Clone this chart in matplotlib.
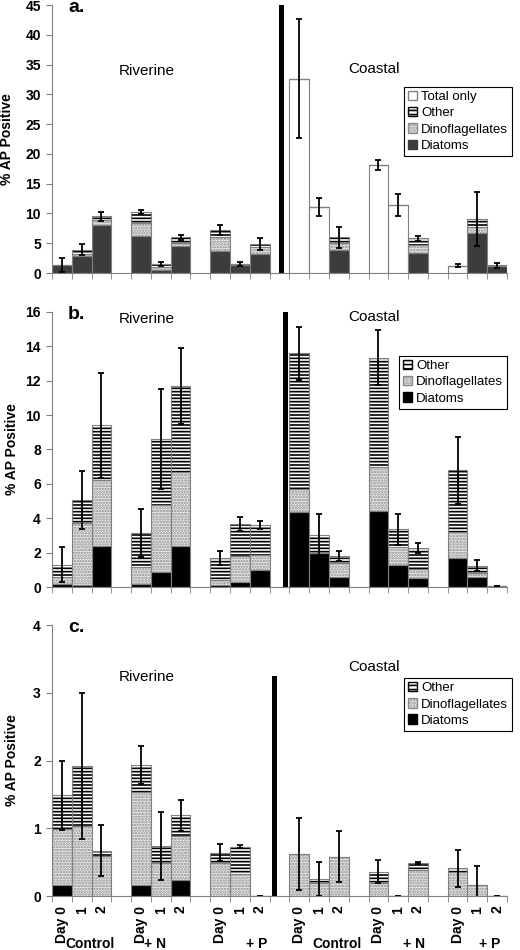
import numpy as np
import matplotlib
matplotlib.use('Agg')
from matplotlib import pyplot as plt
from matplotlib.patches import Patch
from matplotlib import transforms

plt.rcParams['font.family'] = ['Liberation Sans', 'DejaVu Sans']
plt.rcParams['hatch.linewidth'] = 1.2

# bars: Riverine Control/+N/+P (Day 0,1,2), then Coastal Control/+N/+P
day_labels = ['Day 0', '1', '2']
group_labels = ['Control', '+ N', '+ P', 'Control', '+ N', '+ P']
site_labels = ['Riverine', 'Coastal']

# panel a
total_only_a = [0, 0, 0, 0, 0, 0, 0, 0, 0, 32.6, 11.1, 0, 18.2, 11.4, 0, 1.25, 0, 0]
diatoms_a = [1.4, 2.8, 8.1, 6.25, 0.5, 4.5, 3.7, 1.3, 3.2, 0, 0, 3.9, 0, 0, 3.35, 0, 6.7, 1.2]
dinos_a = [0, 0.4, 0.8, 2.15, 0.5, 0.6, 2.3, 0, 1.1, 0, 0, 1.1, 0, 0, 1.4, 0, 0.95, 0]
other_a = [0, 0.7, 0.6, 1.8, 0.5, 0.9, 1.2, 0.2, 0.6, 0, 0, 1.0, 0, 0, 1.1, 0, 1.45, 0.1]
err_a = [1.15, 0.9, 0.8, 0.3, 0.4, 0.45, 0.8, 0.35, 0.95, 10.0, 1.5, 1.8, 0.85, 1.9, 0.45, 0.25, 4.5, 0.45]

# panel b
diatoms_b = [0.2, 0.1, 2.4, 0.2, 0.87, 2.4, 0.13, 0.27, 1.0, 4.35, 2.0, 0.6, 4.4, 1.3, 0.55, 1.7, 0.6, 0.03]
dinos_b = [0.4, 3.65, 3.8, 0.95, 3.88, 4.3, 0.27, 1.53, 0.85, 1.35, 0, 0.8, 2.6, 1.05, 0.5, 1.5, 0.2, 0]
other_b = [0.7, 1.3, 3.2, 2.0, 3.85, 5.0, 1.3, 1.85, 1.75, 7.9, 1.05, 0.4, 6.35, 1.0, 1.2, 3.6, 0.45, 0]
err_b = [1.0, 1.7, 3.05, 1.4, 2.9, 2.2, 0.4, 0.4, 0.25, 1.55, 1.2, 0.3, 1.6, 0.9, 0.3, 1.95, 0.3, 0]

# panel c
diatoms_c = [0.17, 0, 0, 0.16, 0, 0.24, 0, 0, 0, 0, 0, 0, 0, 0, 0, 0, 0, 0]
dinos_c = [0.82, 1.04, 0.59, 1.38, 0.49, 0.64, 0.49, 0.33, 0, 0.62, 0.19, 0.58, 0.19, 0, 0.39, 0.35, 0.17, 0]
other_c = [0.5, 0.88, 0.08, 0.39, 0.25, 0.31, 0.15, 0.4, 0, 0, 0.06, 0, 0.17, 0, 0.1, 0.06, 0, 0]
err_c = [0.51, 1.08, 0.38, 0.28, 0.5, 0.23, 0.13, 0.02, 0, 0.53, 0.25, 0.38, 0.17, 0, 0.01, 0.27, 0.28, 0]

divider_heights = [45, 16, 3.25]
ymax = [45, 16, 4]
ystep = [5, 2, 1]

pos = np.array([g * 4 + d for g in range(6) for d in range(3)])
EDGE = '#808080'
STRIPE = dict(hatch='-----', color='white', edgecolor='black', lw=0)
STIPPLE = dict(hatch='......', color='#ececec', edgecolor='#8a8a8a', lw=0)


def layer(ax, vals, bottom, style):
    vals = np.array(vals)
    ax.bar(pos, vals, width=1.0, bottom=bottom, **style)
    ax.bar(pos, vals, width=1.0, bottom=bottom, fill=False, edgecolor=EDGE, lw=0.8)
    return bottom + vals


fig = plt.figure(figsize=(5.2, 9.5), dpi=100)
rects = [[0.1, 0.7126, 0.875, 0.2821], [0.1, 0.3821, 0.875, 0.2895], [0.1, 0.0568, 0.875, 0.2853]]
panels = [
    ('a.', diatoms_a, dinos_a, other_a, err_a, '#3c3c3c'),
    ('b.', diatoms_b, dinos_b, other_b, err_b, 'black'),
    ('c.', diatoms_c, dinos_c, other_c, err_c, 'black'),
]
div_x = [11.1, 11.3, 10.75]
text_y = [(0.754, 0.761), (0.975, 0.982), (0.808, 0.845)]
leg_anchor = [(1.011, 0.694), (1.0, 0.84), (1.011, 0.804)]
ylab_x = [-0.084, -0.073, -0.073]

for i, (letter, dia, dino, oth, err, dia_col) in enumerate(panels):
    ax = fig.add_axes(rects[i])
    bottom = np.zeros(len(pos))
    if i == 0:
        bottom = layer(ax, total_only_a, bottom, dict(color='white', lw=0))
    bottom = layer(ax, dia, bottom, dict(color=dia_col, lw=0))
    bottom = layer(ax, dino, bottom, STIPPLE)
    bottom = layer(ax, oth, bottom, STRIPE)
    ax.errorbar(pos, bottom, yerr=err, fmt='none', ecolor='black', elinewidth=1.3,
                capsize=2.3, capthick=1.3)
    ax.bar([div_x[i]], [divider_heights[i]], width=0.25, color='black')

    ax.set_xlim(-0.5, 22.5)
    ax.set_ylim(0, ymax[i])
    ax.set_yticks(np.arange(0, ymax[i] + 0.01, ystep[i]))
    for s in ['top', 'right']:
        ax.spines[s].set_visible(False)
    for s in ['left', 'bottom']:
        ax.spines[s].set_color(EDGE)
    ax.tick_params(axis='y', direction='out', length=4, color=EDGE, pad=4, labelsize=10)
    for t in ax.get_yticklabels():
        t.set_fontweight('bold')
    ax.set_xticks(np.arange(-0.5, 23, 1), minor=True)
    ax.tick_params(axis='x', which='minor', direction='out', length=4, color=EDGE)
    ax.set_xticks(pos)
    ax.tick_params(axis='x', which='major', length=0, pad=7)
    if i == 2:
        ax.set_xticklabels(day_labels * 6, rotation=90, fontsize=10, fontweight='bold', va='top')
        tr = transforms.blended_transform_factory(ax.transData, ax.transAxes)
        offs = [1.42, 0.7, 1.85, 1.9, 1.8, 1.6]
        for g, lab in enumerate(group_labels):
            ax.text(g * 4 + offs[g], -0.178, lab, transform=tr, ha='center', va='center',
                    fontsize=10, fontweight='bold')
    else:
        ax.set_xticklabels([])

    ax.set_ylabel('% AP Positive', fontsize=10, fontweight='bold')
    ax.yaxis.set_label_coords(ylab_x[i], 0.5)
    ax.text(0.035, 0.99, letter, transform=ax.transAxes, fontsize=14, fontweight='bold',
            ha='left', va='center')
    ax.text(0.209, text_y[i][0], site_labels[0], transform=ax.transAxes, fontsize=11,
            ha='center', va='center')
    ax.text(0.708, text_y[i][1], site_labels[1], transform=ax.transAxes, fontsize=11,
            ha='center', va='center')

    handles = []
    if i == 0:
        handles.append(Patch(facecolor='white', edgecolor=EDGE, label='Total only'))
    handles += [
        Patch(facecolor='white', edgecolor='black', hatch='----', label='Other'),
        Patch(facecolor='#ececec', edgecolor='#8a8a8a', hatch='......', label='Dinoflagellates'),
        Patch(facecolor=dia_col, edgecolor=dia_col, label='Diatoms'),
    ]
    leg = ax.legend(handles=handles, loc='upper right', bbox_to_anchor=leg_anchor[i],
                    fontsize=9.5, frameon=True, fancybox=False, framealpha=1,
                    handlelength=0.7, handleheight=0.7, handletextpad=0.3,
                    labelspacing=0.3, borderpad=0.3, borderaxespad=0)
    leg.get_frame().set_edgecolor('black')
    leg.get_frame().set_linewidth(0.8)

fig.savefig('out.png', dpi=100)
